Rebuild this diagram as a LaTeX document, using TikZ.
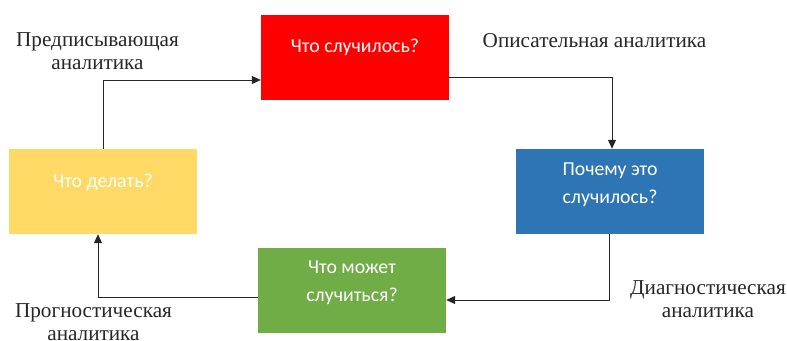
\documentclass[tikz,border=0pt]{standalone}
\usepackage{fontspec}
\setmainfont{Liberation Serif}
\newfontfamily\boxfont{Carlito}
\usetikzlibrary{arrows.meta}
\definecolor{cred}{HTML}{FF0000}
\definecolor{cblue}{HTML}{2E75B6}
\definecolor{cgreen}{HTML}{70AD47}
\definecolor{cyellow}{HTML}{FFD966}
\tikzset{
  stagebox/.style={rectangle, draw=none, minimum width=188pt, minimum height=85pt, inner sep=0pt},
  boxtext/.style={text=white, font=\boxfont\fontsize{19.8}{28}\selectfont, align=center},
  lbl/.style={text=black!85, font=\fontsize{21.2}{23}\selectfont, align=center},
  arr/.style={draw=black!85, line width=1pt, -{Triangle[length=9pt,width=8pt]}}
}
\begin{document}
\begin{tikzpicture}[x=1pt,y=-1pt]
\useasboundingbox (0,0) rectangle (787,340);
\node[stagebox, fill=cred] (r) at (355,57.5) {};
\node[boxtext] (rt) at (355,47) {Что случилось?};
\node[stagebox, fill=cblue] (b) at (610,191.5) {};
\node[boxtext] (bt) at (610,185) {Почему это\\случилось?};
\node[stagebox, fill=cgreen] (g) at (352,290.5) {};
\node[boxtext] (gt) at (352,283) {Что может\\случиться?};
\node[stagebox, fill=cyellow] (y) at (103,191.5) {};
\node[boxtext] (yt) at (103,182) {Что делать?};

\draw[arr] ([yshift=-19.5pt]r.east) -| ([xshift=2pt]b.north);
\draw[arr] ([xshift=-1pt]b.south) |- ([yshift=-9.5pt]g.east);
\draw[arr] ([yshift=-6.5pt]g.west) -| ([xshift=-5pt]y.south);
\draw[arr] (y.north) |- ([yshift=-22.5pt]r.west);

\node[lbl] (l1) at (97.5,51.5) {Предписывающая\\аналитика};
\node[lbl] (l2) at (594.5,41) {Описательная аналитика};
\node[lbl] (l3) at (708,299.5) {Диагностическая\\аналитика};
\node[lbl] (l4) at (93.5,322.5) {Прогностическая\\аналитика};
\end{tikzpicture}
\end{document}
